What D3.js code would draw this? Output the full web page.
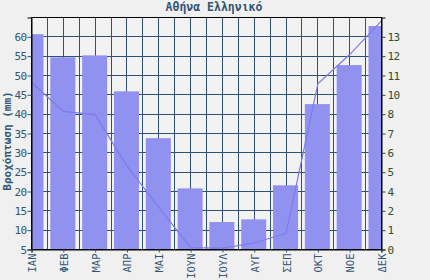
<!DOCTYPE html>
<html>
<head>
<meta charset="utf-8">
<script src="https://cdn.jsdelivr.net/npm/d3@7"></script>
<style>
  html, body { margin: 0; padding: 0; background: #f0f0f0; }
  svg { display: block; }
  text { font-family: "DejaVu Sans Mono", monospace; }
</style>
</head>
<body>
<svg id="chart" width="430" height="280"></svg>
<script>
const months = ["ΙΑΝ","ΦΕΒ","ΜΑΡ","ΑΠΡ","ΜΑΙ","ΙΟΥΝ","ΙΟΥΛ","ΑΥΓ","ΣΕΠ","ΟΚΤ","ΝΟΕ","ΔΕΚ"];
const rainfall = [60.7, 54.7, 55.2, 45.9, 33.8, 20.8, 12.1, 12.8, 21.6, 42.6, 52.7, 62.8];
const rainDays = [10.3, 8.5, 8.3, 5.15, 2.6, 0.12, 0.08, 0.4, 1.0, 10.2, 12.0, 14.07];
const leftTicks = [5, 10, 15, 20, 25, 30, 35, 40, 45, 50, 55, 60];
const rightTickLabels = ["0","1","2","4","5","6","7","8","10","11","12","13"];
const title = "Αθήνα Ελληνικό";
const yTitle = "Βροχόπτωση (mm)";

const svg = d3.select("#chart");
const L = 31.5, R = 381.5, T = 17.5, B = 249.5;

const x = d3.scalePoint().domain(months).range([L, R]);
const yL = d3.scaleLinear().domain([5, 65]).range([B, T]);
const rightStep = 1.19;
const yR = d3.scaleLinear().domain([0, rightStep * 12]).range([B, T]);

svg.append("rect").attr("width", 430).attr("height", 280).attr("fill", "#f0f0f0");
svg.append("rect").attr("x", L).attr("y", T).attr("width", R - L).attr("height", B - T).attr("fill", "#f2f2f2");

svg.append("defs").append("clipPath").attr("id", "plotclip")
  .append("rect").attr("x", L).attr("y", T).attr("width", R - L).attr("height", B - T);

const gridColor = "#2f5079";
// vertical grid: at months and half months
const step = x.step();
const vgrid = d3.range(1, 22).map(i => L + i * step / 2);
svg.append("g").selectAll("line").data(vgrid).join("line")
  .attr("x1", d => Math.round(d - 0.5) + 0.5).attr("x2", d => Math.round(d - 0.5) + 0.5)
  .attr("y1", T).attr("y2", B)
  .attr("stroke", gridColor).attr("stroke-width", 1);
// horizontal grid
svg.append("g").selectAll("line").data(leftTicks.slice(1)).join("line")
  .attr("x1", L).attr("x2", R)
  .attr("y1", d => Math.round(yL(d) - 0.5) + 0.5).attr("y2", d => Math.round(yL(d) - 0.5) + 0.5)
  .attr("stroke", gridColor).attr("stroke-width", 1);

// bars
svg.append("g").attr("clip-path", "url(#plotclip)").selectAll("rect").data(rainfall).join("rect")
  .attr("x", (d, i) => x(months[i]) - 13)
  .attr("width", 25)
  .attr("y", d => yL(d))
  .attr("height", d => B - yL(d))
  .attr("fill", "#9191ef");

// line
const line = d3.line().x((d, i) => x(months[i])).y(d => yR(d));
svg.append("path").datum(rainDays).attr("d", line)
  .attr("fill", "none").attr("stroke", "#7b7bec").attr("stroke-width", 1.2)
  .attr("clip-path", "url(#plotclip)");

// frame
svg.append("rect").attr("x", L).attr("y", T).attr("width", R - L).attr("height", B - T)
  .attr("fill", "none").attr("stroke", "#000").attr("stroke-width", 1);

// left axis
const leftAxis = d3.axisLeft(yL).tickValues(leftTicks).tickSize(4).tickPadding(1);
const gl = svg.append("g").attr("transform", `translate(${L},0)`).call(leftAxis);
gl.select(".domain").attr("stroke", "#000");
gl.selectAll(".tick line").attr("stroke", "#335577");
gl.selectAll(".tick text").attr("fill", "#335577").attr("font-size", 11)
  .attr("font-family", "DejaVu Sans Mono").attr("letter-spacing", -0.6);

// right axis
const rightVals = leftTicks.map((d, i) => i * rightStep);
const rightAxis = d3.axisRight(yR).tickValues(rightVals)
  .tickFormat((d, i) => rightTickLabels[i]).tickSize(4).tickPadding(2);
const gr = svg.append("g").attr("transform", `translate(${R},0)`).call(rightAxis);
gr.select(".domain").attr("stroke", "#000");
gr.selectAll(".tick line").attr("stroke", "#2f4f2f");
gr.selectAll(".tick text").attr("fill", "#2f4f2f").attr("font-size", 11)
  .attr("font-family", "DejaVu Sans Mono").attr("letter-spacing", -0.6);

// bottom axis
const bottomAxis = d3.axisBottom(x).tickSize(3).tickPadding(0);
const gb = svg.append("g").attr("transform", `translate(0,${B})`).call(bottomAxis);
gb.select(".domain").attr("stroke", "#000");
gb.selectAll(".tick line").attr("stroke", "#335577");
gb.selectAll(".tick text")
  .attr("fill", "#335577").attr("font-size", 10.5).attr("font-family", "DejaVu Sans Mono")
  .attr("text-anchor", "end").attr("dy", null).attr("y", null)
  .attr("dominant-baseline", "central")
  .attr("transform", "translate(0,4) rotate(-90)");

// title
svg.append("text").attr("x", 214).attr("y", 11).attr("text-anchor", "middle")
  .attr("font-size", 11.5).attr("font-weight", "bold").attr("fill", "#335577")
  .text(title);

// y title
svg.append("text").attr("transform", "translate(11,141) rotate(-90)")
  .attr("text-anchor", "middle").attr("font-size", 11).attr("font-weight", "bold")
  .attr("fill", "#335577").text(yTitle);
</script>
</body>
</html>
